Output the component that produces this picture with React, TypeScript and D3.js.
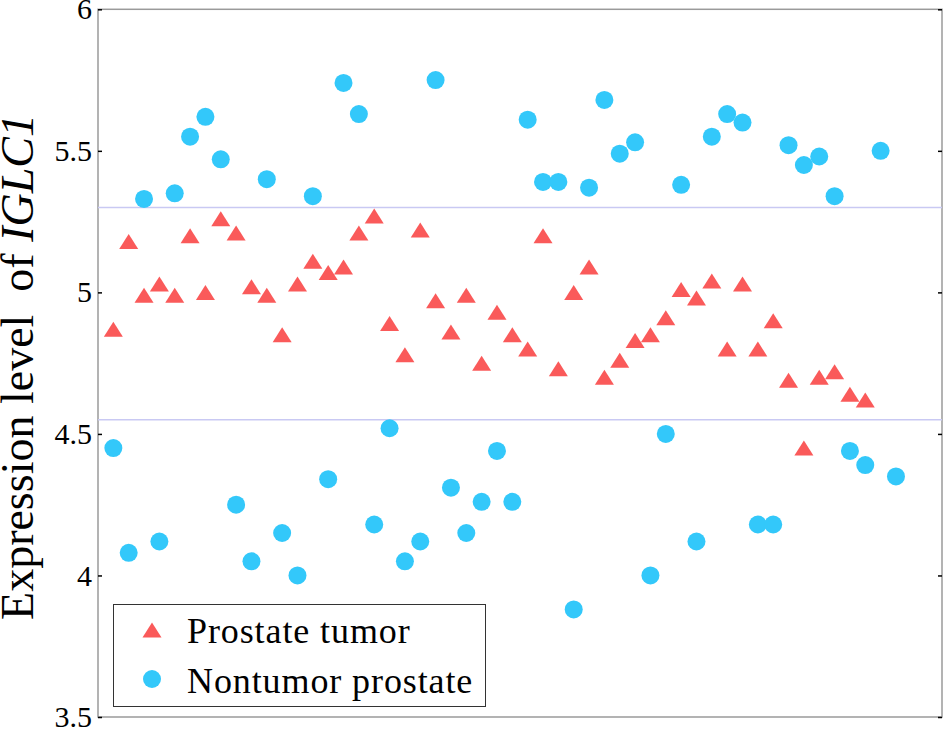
import React from 'react';
import * as d3 from 'd3';

// expression values, one per sample position
const tumor = [
  4.87, 5.18, 4.99, 5.03, 4.99, 5.2, 5.0, 5.26, 5.21, 5.02,
  4.99, 4.85, 5.03, 5.11, 5.07, 5.09, 5.21, 5.27, 4.89, 4.78,
  5.22, 4.97, 4.86, 4.99, 4.75, 4.93, 4.85, 4.8, 5.2, 4.73,
  5.0, 5.09, 4.7, 4.76, 4.83, 4.85, 4.91, 5.01, 4.98, 5.04,
  4.8, 5.03, 4.8, 4.9, 4.69, 4.45, 4.7, 4.72, 4.64, 4.62,
];
const nontumor = [
  4.45, 4.08, 5.33, 4.12, 5.35, 5.55, 5.62, 5.47, 4.25, 4.05,
  5.4, 4.15, 4.0, 5.34, 4.34, 5.74, 5.63, 4.18, 4.52, 4.05,
  4.12, 5.75, 4.31, 4.15, 4.26, 4.44, 4.26, 5.61, 5.39, 5.39,
  3.88, 5.37, 5.68, 5.49, 5.53, 4.0, 4.5, 5.38, 4.12, 5.55,
  5.63, 5.6, 4.18, 4.18, 5.52, 5.45, 5.48, 5.34, 4.44, 4.39,
  5.5, 4.35,
];
const yTicks = [3.5, 4, 4.5, 5, 5.5, 6];
const cutoffs = [5.3, 4.55];
const legendItems = ['Prostate tumor', 'Nontumor prostate'];

const W = 945;
const H = 729;
const RED = '#fa5a5a';
const BLUE = '#33c8fa';
const SERIF = '"Liberation Serif", "Times New Roman", serif';

const triangle = (cx: number, cy: number) =>
  `M${cx - 9.5},${cy + 7.5}L${cx + 9.5},${cy + 7.5}L${cx},${cy - 7.5}Z`;

const App: React.FC = () => {
  const svgRef = React.useRef<SVGSVGElement>(null);

  React.useEffect(() => {
    if (!svgRef.current) return;
    const svg = d3.select(svgRef.current);
    svg.selectAll('*').remove();

    const left = 98, right = 942, top = 9.3, bottom = 717;
    const x = d3.scaleLinear().domain([0, 55]).range([left, right]);
    const y = d3.scaleLinear().domain([3.5, 6]).range([bottom, top]);

    // box
    svg.append('rect')
      .attr('x', left).attr('y', top)
      .attr('width', right - left).attr('height', bottom - top)
      .attr('fill', 'none').attr('stroke', '#9a9a9a').attr('stroke-width', 1.5);

    // threshold lines
    svg.selectAll('line.cut')
      .data(cutoffs)
      .enter()
      .append('line')
      .attr('class', 'cut')
      .attr('x1', left).attr('x2', right)
      .attr('y1', d => y(d)).attr('y2', d => y(d))
      .attr('stroke', '#c9c9f3').attr('stroke-width', 1.5);

    // y axes
    const yAxis = svg.append('g')
      .attr('transform', `translate(${left},0)`)
      .call(d3.axisLeft(y).tickValues(yTicks).tickSize(-4).tickPadding(6).tickFormat(d3.format('')));
    yAxis.select('.domain').remove();
    yAxis.selectAll('.tick line').attr('stroke', '#000').attr('stroke-width', 1.5);
    yAxis.selectAll('.tick text')
      .attr('font-family', SERIF).attr('font-size', 30).attr('fill', '#000');

    const yAxisR = svg.append('g')
      .attr('transform', `translate(${right},0)`)
      .call(d3.axisRight(y).tickValues(yTicks).tickSize(-4).tickFormat(() => ''));
    yAxisR.select('.domain').remove();
    yAxisR.selectAll('.tick line').attr('stroke', '#000').attr('stroke-width', 1.5);

    // points
    svg.selectAll('path.tumor')
      .data(tumor)
      .enter()
      .append('path')
      .attr('class', 'tumor')
      .attr('d', (d, i) => triangle(x(i + 1), y(d)))
      .attr('fill', RED);

    svg.selectAll('circle.normal')
      .data(nontumor)
      .enter()
      .append('circle')
      .attr('class', 'normal')
      .attr('cx', (d, i) => x(i + 1))
      .attr('cy', d => y(d))
      .attr('r', 9)
      .attr('fill', BLUE);

    // legend
    const lg = svg.append('g');
    lg.append('rect')
      .attr('x', 113.5).attr('y', 604.5).attr('width', 372).attr('height', 102)
      .attr('fill', '#fff').attr('stroke', '#333').attr('stroke-width', 1);
    lg.append('path').attr('d', triangle(152, 630)).attr('fill', RED);
    lg.append('circle').attr('cx', 152).attr('cy', 679).attr('r', 9).attr('fill', BLUE);
    lg.selectAll('text')
      .data(legendItems)
      .enter()
      .append('text')
      .attr('x', 187)
      .attr('y', (d, i) => 643 + i * 50)
      .attr('font-family', SERIF)
      .attr('font-size', 36)
      .attr('letter-spacing', 0.9)
      .text(d => d);

    // y label
    const label = svg.append('text')
      .attr('transform', 'translate(33,367) rotate(-90)')
      .attr('text-anchor', 'middle')
      .attr('font-family', SERIF)
      .attr('font-size', 46)
      .style('white-space', 'pre');
    label.append('tspan').text('Expression level  of ');
    label.append('tspan').attr('font-style', 'italic').text('IGLC1');
  }, []);

  return (
    <div style={{ position: 'absolute', left: 0, top: 0 }}>
      <svg ref={svgRef} width={W} height={H} style={{ display: 'block', background: '#fff' }} />
    </div>
  );
};

export default App;
